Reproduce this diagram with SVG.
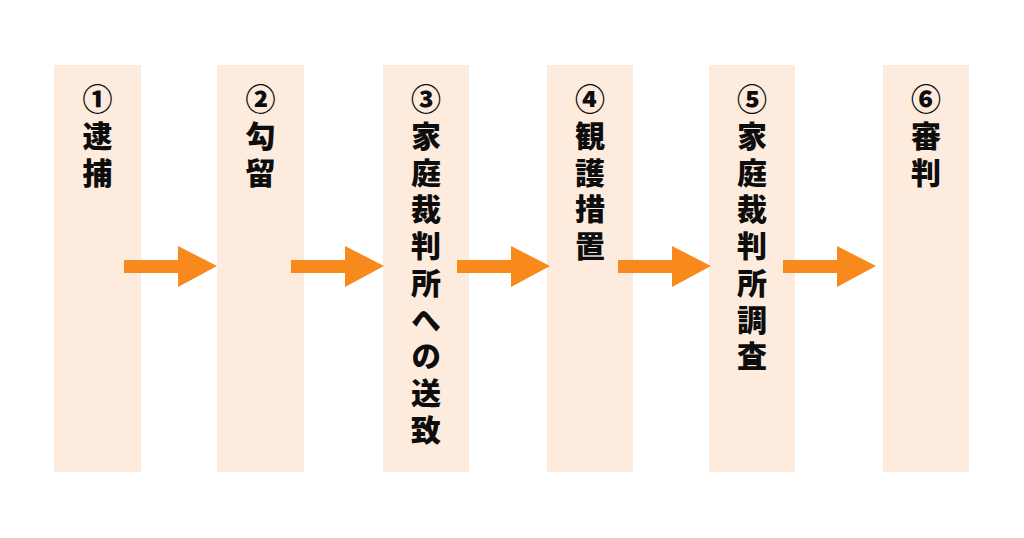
<svg xmlns="http://www.w3.org/2000/svg" width="1024" height="538" viewBox="0 0 1024 538">
<style>
.col{fill:#FDEBDD}
.arr{fill:#F8891C}
.t{font-family:"Noto Sans CJK JP","Noto Sans",sans-serif;font-weight:900;font-size:30px;fill:#0d0d0d;writing-mode:vertical-rl;text-orientation:upright;letter-spacing:6.7px}
</style>
<defs>
<path id="arrow" d="M0,-6 H54 V-20 L93,0 L54,21 V7 H0 Z"/>
</defs>
<rect width="1024" height="538" fill="#fff"/>
<g id="n1"><rect class="col" x="54" y="65" width="87" height="407"/>
<text class="t" x="97.5" y="84">①逮捕</text></g>
<g id="n2"><rect class="col" x="217" y="65" width="87" height="407"/>
<text class="t" x="260.5" y="84">②勾留</text></g>
<g id="n3"><rect class="col" x="383" y="65" width="86" height="407"/>
<text class="t" x="426" y="84">③家庭裁判所への送致</text></g>
<g id="n4"><rect class="col" x="547" y="65" width="86" height="407"/>
<text class="t" x="590" y="84">④観護措置</text></g>
<g id="n5"><rect class="col" x="709" y="65" width="86" height="407"/>
<text class="t" x="752" y="84">⑤家庭裁判所調査</text></g>
<g id="n6"><rect class="col" x="883" y="65" width="86" height="407"/>
<text class="t" x="926" y="84">⑥審判</text></g>
<g id="connectors" class="arr">
<use href="#arrow" x="124" y="266"/>
<use href="#arrow" x="291" y="266"/>
<use href="#arrow" x="457" y="266"/>
<use href="#arrow" x="618" y="266"/>
<use href="#arrow" x="783" y="266"/>
</g>
</svg>
